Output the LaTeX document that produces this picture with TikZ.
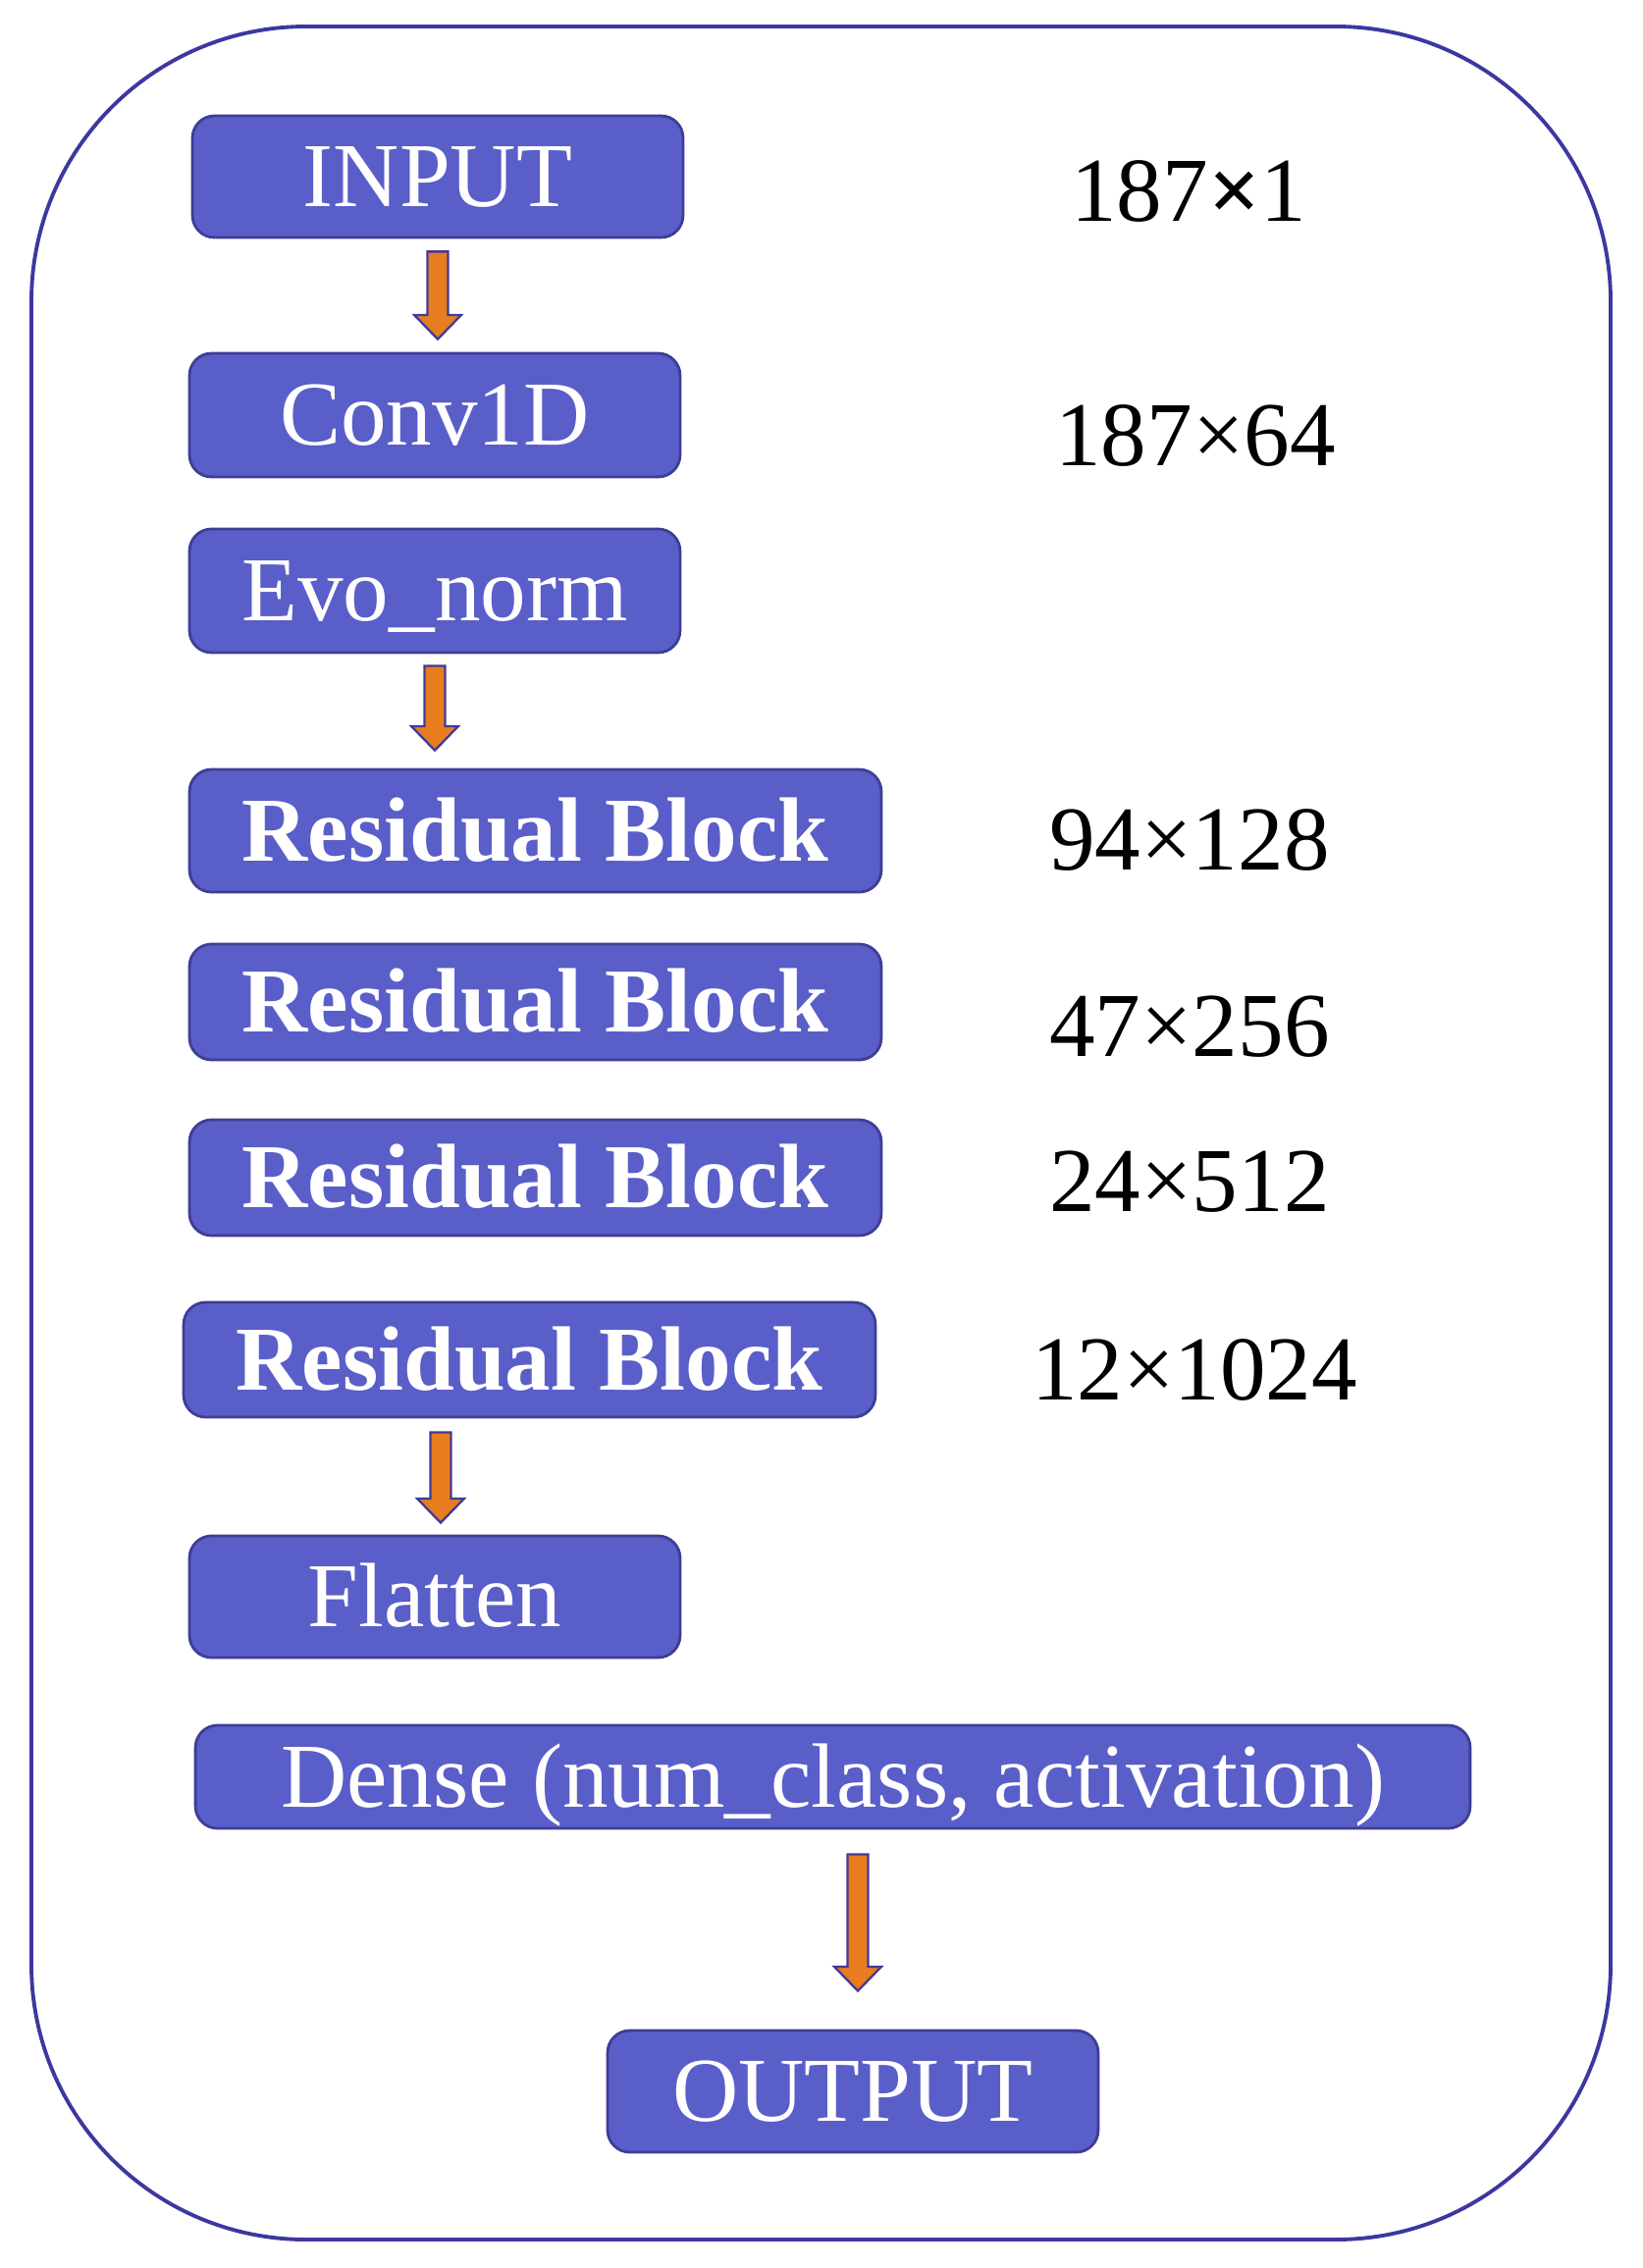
\documentclass[tikz,border=0pt]{standalone}
\usepackage{fontspec}
\setmainfont{Liberation Serif}
\usetikzlibrary{calc}
\definecolor{boxfill}{RGB}{90,94,200}
\definecolor{boxline}{RGB}{62,62,150}
\definecolor{frameline}{RGB}{60,56,160}
\definecolor{arrowfill}{RGB}{232,125,32}
\definecolor{arrowline}{RGB}{66,58,150}
\def\shaftw{6pt}
\def\headw{13.6pt}
\def\headl{14pt}
\begin{document}
\begin{tikzpicture}[x=0.02cm,y=-0.02cm,
  layer/.style={draw=boxline, fill=boxfill, line width=1.6pt, rounded corners=0.45cm,
    text=white, inner sep=0pt, font=\fontsize{53}{60}\selectfont,
    text height=35pt, text depth=0pt, minimum height=2.48cm},
  dimlabel/.style={inner sep=0pt, font=\fontsize{53}{60}\selectfont, text=black,
    text height=35pt, text depth=0pt},
  blockarrow/.style={draw=arrowline, fill=arrowfill, line width=1.3pt, line join=miter,
    to path={let \p1=(\tikztostart), \p2=(\tikztotarget) in
      (\x1-\shaftw,\y1) -- (\x1+\shaftw,\y1) -- (\x1+\shaftw,\y2+\headl)
      -- (\x1+\headw,\y2+\headl) -- (\x1,\y2) -- (\x1-\headw,\y2+\headl)
      -- (\x1-\shaftw,\y2+\headl) -- cycle}}]
\useasboundingbox (0,0) rectangle (1673,2311);
\fill[white] (0,0) rectangle (1673,2311);
\draw[frameline, line width=2.2pt, rounded corners=5.6cm] (32,27) rectangle (1641,2282);

\node[layer, minimum width=10cm] (in) at (446,180) {INPUT};
\node[layer, minimum width=10cm, minimum height=2.52cm] (conv) at (443,423) {Conv1D};
\node[layer, minimum width=10cm, minimum height=2.52cm] (evo) at (443,602) {Evo\_norm};
\node[layer, minimum width=14.1cm, minimum height=2.5cm] (rb1) at (545.5,846.5) {\textbf{Residual Block}};
\node[layer, minimum width=14.1cm, minimum height=2.36cm] (rb2) at (545.5,1021) {\textbf{Residual Block}};
\node[layer, minimum width=14.1cm, minimum height=2.36cm] (rb3) at (545.5,1200) {\textbf{Residual Block}};
\node[layer, minimum width=14.1cm, minimum height=2.34cm] (rb4) at (539.5,1385.5) {\textbf{Residual Block}};
\node[layer, minimum width=10cm] (flat) at (443,1627) {Flatten};
\node[layer, minimum width=25.98cm, minimum height=2.1cm] (dense) at (848.5,1810.5) {Dense (num\_class, activation)};
\node[layer, minimum width=10cm] (out) at (869,2131) {OUTPUT};

\node[dimlabel] (d1) at (1211,195) {187\textbf{×}1};
\node[dimlabel] (d2) at (1218,444) {187×64};
\node[dimlabel] (d3) at (1212,856) {94×128};
\node[dimlabel] (d4) at (1212,1046) {47×256};
\node[dimlabel] (d5) at (1212,1204) {24×512};
\node[dimlabel] (d6) at (1217,1396) {12×1024};

\draw[blockarrow] ($(in.south)+(0,13)$) to ($(conv.north)+(0,-13)$);
\draw[blockarrow] ($(evo.south)+(0,12)$) to ($(rb1.north)+(0,-18)$);
\draw[blockarrow] ($(rb4.south -| flat.north)+(6,14)$) to ($(flat.north)+(0,-12)$);
\draw[blockarrow] ($(dense.south -| out.north)+(5,25)$) to ($(out.north)+(0,-39)$);
\end{tikzpicture}
\end{document}
